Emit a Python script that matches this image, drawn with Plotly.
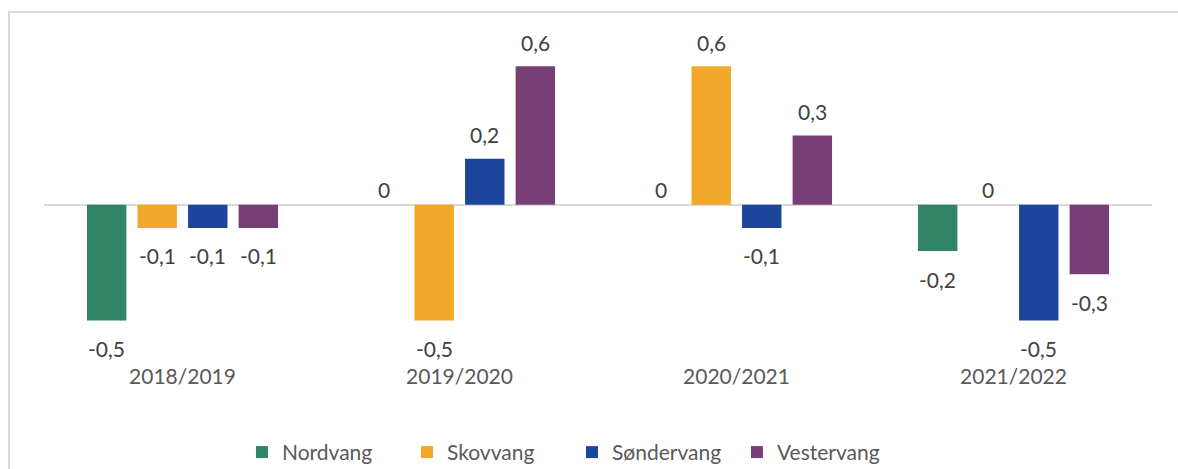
import plotly.graph_objects as go

categories = ["2018/2019", "2019/2020", "2020/2021", "2021/2022"]
series_names = ["Nordvang", "Skovvang", "Søndervang", "Vestervang"]
nordvang = [-0.5, 0.0, 0.0, -0.2]
skovvang = [-0.1, -0.5, 0.6, 0.0]
sondervang = [-0.1, 0.2, -0.1, -0.5]
vestervang = [-0.1, 0.6, 0.3, -0.3]
colors = ["#2F8565", "#F2A82A", "#1B469C", "#783F77"]

values = [nordvang, skovvang, sondervang, vestervang]

FONT = "Lato, Carlito, Calibri, sans-serif"
BARGAP = 0.27
GROUPGAP = 0.22

fig = go.Figure()
for name, vals, col in zip(series_names, values, colors):
    fig.add_trace(go.Bar(
        x=categories, y=vals, name=name,
        marker=dict(color=col, line=dict(width=0)),
    ))

annotations = []
n = len(series_names)
for i, vals in enumerate(values):
    off = (i - (n - 1) / 2) * (1 - BARGAP) / n
    for j, v in enumerate(vals):
        if v > 0:
            ys = 24
        elif v < 0:
            ys = -28
        else:
            ys = 15
        label = f"{v:.1f}".replace(".", ",") if v != 0 else "0"
        annotations.append(dict(
            x=j + off, y=v, xref="x", yref="y", text=label, showarrow=False,
            yanchor="middle", xanchor="center", yshift=ys,
            font=dict(family=FONT, size=21, color="#404040"),
        ))

fig.update_layout(
    width=1178, height=469,
    margin=dict(l=44, r=26, t=20, b=104, autoexpand=False),
    paper_bgcolor="white", plot_bgcolor="white",
    barmode="group", bargap=BARGAP, bargroupgap=GROUPGAP,
    font=dict(family=FONT, size=21, color="#595959"),
    xaxis=dict(showgrid=False, showline=False, ticks="", tickfont=dict(size=21, color="#595959"),
               range=[-0.5, 3.5], ticklabelstandoff=-3),
    yaxis=dict(range=[-0.693, 0.80], showgrid=False, showticklabels=False, zeroline=True,
               zerolinecolor="#D9D9D9", zerolinewidth=2, showline=False, ticks=""),
    showlegend=True,
    legend=dict(orientation="h", x=0.4765, xanchor="center", y=-0.194, yanchor="top",
                font=dict(size=21, color="#595959"), itemsizing="constant",
                entrywidth=120, entrywidthmode="pixels"),
    annotations=annotations,
    shapes=[dict(type="rect", xref="paper", yref="paper",
                 x0=(9 - 44) / 1108, x1=(1185 - 44) / 1108,
                 y0=(365 - 480) / 345, y1=(365 - 12) / 345,
                 line=dict(color="#D9D9D9", width=2), fillcolor="rgba(0,0,0,0)", layer="below")],
)

fig.write_html("out.html", config={"displayModeBar": False},
               post_script="document.body.style.margin='0';document.body.style.overflow='hidden';")
